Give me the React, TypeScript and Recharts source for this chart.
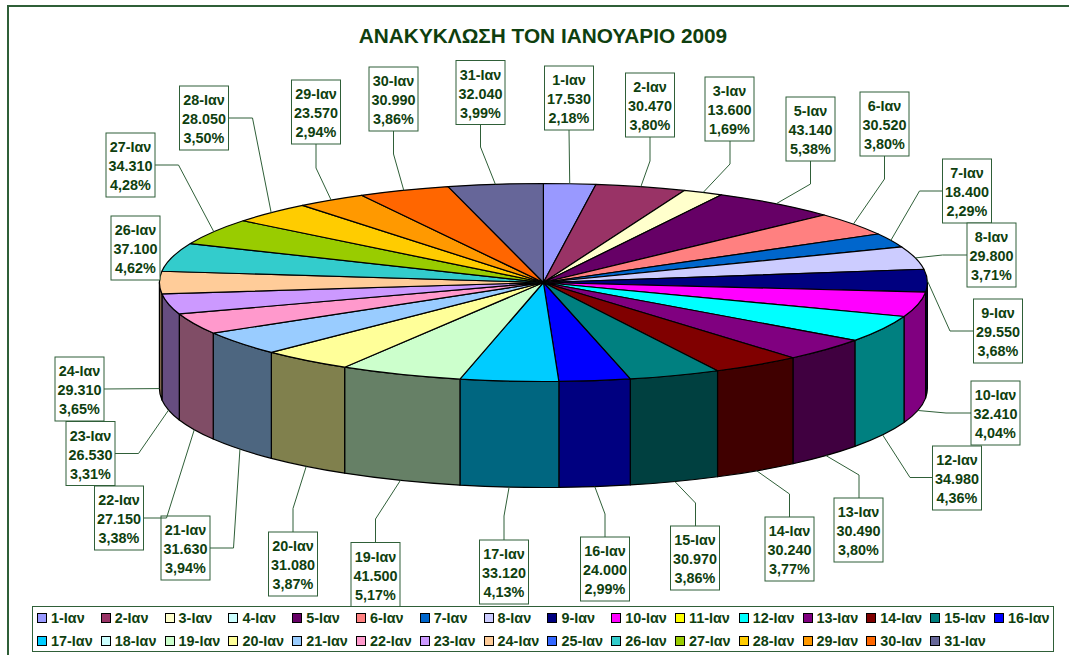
import { Legend, Pie, PieChart } from 'recharts';

const days = [
  '1-Ιαν', '2-Ιαν', '3-Ιαν', '4-Ιαν', '5-Ιαν', '6-Ιαν', '7-Ιαν', '8-Ιαν', '9-Ιαν', '10-Ιαν', '11-Ιαν',
  '12-Ιαν', '13-Ιαν', '14-Ιαν', '15-Ιαν', '16-Ιαν', '17-Ιαν', '18-Ιαν', '19-Ιαν', '20-Ιαν', '21-Ιαν',
  '22-Ιαν', '23-Ιαν', '24-Ιαν', '25-Ιαν', '26-Ιαν', '27-Ιαν', '28-Ιαν', '29-Ιαν', '30-Ιαν', '31-Ιαν',
];

const recycled = [
  17530, 30470, 13600, 0, 43140, 30520, 18400, 29800, 29550, 32410, 0,
  34980, 30490, 30240, 30970, 24000, 33120, 0, 41500, 31080, 31630,
  27150, 26530, 29310, 0, 37100, 34310, 28050, 23570, 30990, 32040,
];

const colors = [
  '#9999FF', '#993366', '#FFFFCC', '#CCFFFF', '#660066', '#FF8080', '#0066CC', '#CCCCFF', '#000080', '#FF00FF', '#FFFF00',
  '#00FFFF', '#800080', '#800000', '#008080', '#0000FF', '#00CCFF', '#CCFFFF', '#CCFFCC', '#FFFF99', '#99CCFF',
  '#FF99CC', '#CC99FF', '#FFCC99', '#3366FF', '#33CCCC', '#99CC00', '#FFCC00', '#FF9900', '#FF6600', '#666699',
];

// callout layout: box top-left, then the leader from the box edge through its elbow
type Callout = { x: number; y: number; leader: number[][] };
const callouts: Record<string, Callout> = {
  '1-Ιαν': { x: 544.5, y: 66, leader: [[569, 130]] },
  '2-Ιαν': { x: 625.5, y: 73, leader: [[650, 137], [650, 161]] },
  '3-Ιαν': { x: 705, y: 77, leader: [[730, 141], [730, 164]] },
  '5-Ιαν': { x: 786, y: 97, leader: [[810.5, 161], [810.5, 184]] },
  '6-Ιαν': { x: 860, y: 92, leader: [[884.5, 156], [884.5, 179]] },
  '7-Ιαν': { x: 942.5, y: 159, leader: [[942.5, 191], [919.5, 191]] },
  '8-Ιαν': { x: 967, y: 223, leader: [[967, 255], [942.5, 255]] },
  '9-Ιαν': { x: 973.5, y: 299, leader: [[973.5, 331], [950, 331]] },
  '10-Ιαν': { x: 971, y: 381, leader: [[971, 413], [946, 413]] },
  '12-Ιαν': { x: 932.5, y: 446, leader: [[932.5, 477.5], [910, 477.5]] },
  '13-Ιαν': { x: 834, y: 498, leader: [[859, 498], [859, 475]] },
  '14-Ιαν': { x: 765, y: 517, leader: [[789.5, 517], [789.5, 494]] },
  '15-Ιαν': { x: 670.5, y: 526, leader: [[695.5, 526], [695.5, 503]] },
  '16-Ιαν': { x: 580.5, y: 537, leader: [[605, 537], [605, 514]] },
  '17-Ιαν': { x: 479.5, y: 540, leader: [[504, 540], [504, 516]] },
  '19-Ιαν': { x: 351, y: 542.5, leader: [[375.5, 542.5], [375.5, 519]] },
  '20-Ιαν': { x: 268.5, y: 532, leader: [[293, 532], [293, 508.5]] },
  '21-Ιαν': { x: 161, y: 516, leader: [[210, 548], [233.5, 548]] },
  '22-Ιαν': { x: 94.5, y: 486, leader: [[143.5, 518], [166.5, 518]] },
  '23-Ιαν': { x: 66, y: 421.5, leader: [[115, 453.5], [138.5, 453.5]] },
  '24-Ιαν': { x: 55, y: 357, leader: [[104, 389]] },
  '26-Ιαν': { x: 111, y: 216, leader: [] },
  '27-Ιαν': { x: 106, y: 133, leader: [[155, 165], [178.5, 165]] },
  '28-Ιαν': { x: 179.5, y: 86, leader: [[229, 118], [252.5, 118]] },
  '29-Ιαν': { x: 291.5, y: 80, leader: [[316, 144], [316, 168]] },
  '30-Ιαν': { x: 369, y: 67, leader: [[393.5, 131], [393.5, 154]] },
  '31-Ιαν': { x: 456, y: 60.5, leader: [[480.5, 124.5], [480.5, 147]] },
};

const tableData = days.map((name, i) => ({ name, value: recycled[i], fill: colors[i] }));

const WIDTH = 1069;
const HEIGHT = 655;
const CX = 543.4;
const CY = 282.5;
const RX = 384;
const RY = 99;
const DEPTH = 106;
const GREEN = '#0f3f0f';
const EDGE = '#2f5f38';
const FONT = '"Liberation Sans", Arial, sans-serif';

// the pie is flattened here: recharts hands us the angles, we project them on an ellipse
const onRim = (angle: number) => {
  const rad = (angle * Math.PI) / 180;
  return { x: CX + RX * Math.cos(rad), y: CY - RY * Math.sin(rad) };
};

const halve = (hex: string) => {
  const n = parseInt(hex.slice(1), 16);
  const part = (shift: number) => Math.round(((n >> shift) & 255) / 2);
  return `rgb(${part(16)},${part(8)},${part(0)})`;
};

function TopSlice(props: any) {
  const { startAngle, endAngle, fill, value } = props;
  if (!value) return null;
  const a = onRim(startAngle);
  const b = onRim(endAngle);
  const large = startAngle - endAngle > 180 ? 1 : 0;
  return (
    <path
      d={`M${CX},${CY} L${a.x},${a.y} A${RX},${RY} 0 ${large} 1 ${b.x},${b.y} Z`}
      fill={fill}
      stroke="#000"
      strokeWidth={1.2}
      strokeLinejoin="round"
    />
  );
}

function WallSlice(props: any) {
  const { startAngle, endAngle, fill, value } = props;
  if (!value) return null;
  // only the front half of the rim shows a wall
  const from = Math.min(startAngle, 0);
  const to = Math.max(endAngle, -180);
  if (from <= to) return null;
  const a = onRim(from);
  const b = onRim(to);
  return (
    <path
      d={`M${a.x},${a.y} A${RX},${RY} 0 0 1 ${b.x},${b.y} L${b.x},${b.y + DEPTH} A${RX},${RY} 0 0 0 ${a.x},${a.y + DEPTH} Z`}
      fill={halve(fill)}
      stroke="#000"
      strokeWidth={1.2}
      strokeLinejoin="round"
    />
  );
}

function Callout(props: any) {
  const { name, value, percent, midAngle } = props;
  const spot = callouts[name];
  if (!value || !spot) return null;
  const rim = onRim(midAngle);
  // below the horizontal the leader lands on the lower edge of the wall
  const norm = ((midAngle % 360) + 360) % 360;
  const end = norm > 180 ? { x: rim.x, y: rim.y + DEPTH } : rim;
  const pts = [...spot.leader, [end.x, end.y]];
  const mid = spot.x + 24.5;
  return (
    <g>
      {spot.leader.length > 0 && (
        <polyline points={pts.map((p) => p.join(',')).join(' ')} fill="none" stroke={EDGE} strokeWidth={1} />
      )}
      <rect x={spot.x} y={spot.y} width={49} height={64} fill="#fff" stroke={EDGE} strokeWidth={1} />
      <g fontFamily={FONT} fontSize={14.4} fontWeight="bold" fill={GREEN} textAnchor="middle">
        <text x={mid} y={spot.y + 19}>{name}</text>
        <text x={mid} y={spot.y + 38}>{value.toLocaleString('de-DE')}</text>
        <text x={mid} y={spot.y + 57}>{`${(percent * 100).toFixed(2).replace('.', ',')}%`}</text>
      </g>
    </g>
  );
}

function LegendBox({ payload }: any) {
  // the wall pie also reports itself here, and the order has to stay the calendar's
  const items = days.map((day) => (payload ?? []).find((item: any) => item.value === day && item.type !== 'none')).filter(Boolean);
  return (
    <div
      style={{
        boxSizing: 'border-box',
        width: 1022,
        height: 46,
        background: '#fff',
        border: `1px solid ${EDGE}`,
        display: 'grid',
        gridTemplateColumns: 'repeat(16, 63.8px)',
        gridAutoRows: '22.5px',
        padding: '0 0 0 4px',
        fontFamily: FONT,
        fontSize: 14.4,
        fontWeight: 'bold',
        color: GREEN,
      }}
    >
      {items.map((item: any) => (
        <div key={item.value} style={{ display: 'flex', alignItems: 'center', whiteSpace: 'nowrap' }}>
          <span
            style={{
              boxSizing: 'border-box',
              width: 10,
              height: 10,
              marginRight: 4,
              flex: 'none',
              background: item.color,
              border: '1px solid #000',
            }}
          />
          {item.value}
        </div>
      ))}
    </div>
  );
}

export default function App() {
  return (
    <div style={{ position: 'absolute', left: 0, top: 0, width: WIDTH, height: HEIGHT, overflow: 'hidden', background: '#fff' }}>
      <div
        style={{
          position: 'absolute',
          left: 7,
          top: 5,
          width: WIDTH + 20,
          height: HEIGHT + 20,
          border: `2px solid ${EDGE}`,
        }}
      />
      <div
        style={{
          position: 'absolute',
          left: 0,
          top: 24,
          width: 1086,
          textAlign: 'center',
          fontFamily: FONT,
          fontSize: 20.8,
          fontWeight: 'bold',
          color: GREEN,
        }}
      >
        ΑΝΑΚΥΚΛΩΣΗ ΤΟΝ ΙΑΝΟΥΑΡΙΟ 2009
      </div>
      <div style={{ position: 'absolute', left: 0, top: 0 }}>
        <PieChart width={WIDTH} height={HEIGHT} margin={{ top: 0, right: 0, bottom: 0, left: 0 }}>
          <Pie
            data={tableData}
            dataKey="value"
            nameKey="name"
            cx={CX}
            cy={CY}
            outerRadius={RX}
            startAngle={90}
            endAngle={-270}
            legendType="none"
            shape={WallSlice}
            isAnimationActive={false}
          />
          <Pie
            data={tableData}
            dataKey="value"
            nameKey="name"
            cx={CX}
            cy={CY}
            outerRadius={RX}
            startAngle={90}
            endAngle={-270}
            shape={TopSlice}
            label={Callout}
            labelLine={false}
            isAnimationActive={false}
          />
          <Legend
            content={LegendBox}
            itemSorter={null}
            wrapperStyle={{ position: 'absolute', left: 32, top: 606, width: 1022, height: 46 }}
          />
        </PieChart>
      </div>
    </div>
  );
}
